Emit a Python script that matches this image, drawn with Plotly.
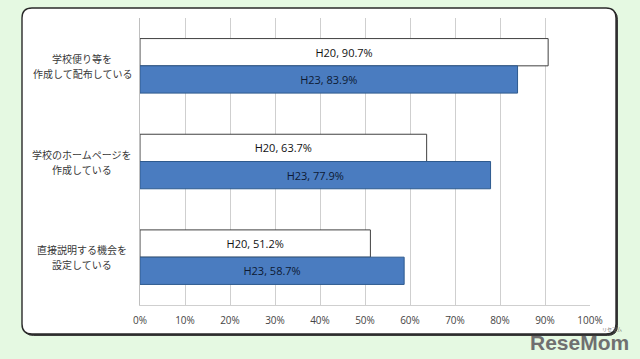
import plotly.graph_objects as go

categories = ["学校便り等を<br>作成して配布している", "学校のホームページを<br>作成している", "直接説明する機会を<br>設定している"]
series_names = ["H20", "H23"]
h20_values = [90.7, 63.7, 51.2]
h23_values = [83.9, 77.9, 58.7]
tick_vals = [0, 10, 20, 30, 40, 50, 60, 70, 80, 90, 100]
tick_text = [f"{v}%" for v in tick_vals]

W, H = 640, 359
ML, MR, MT, MB = 140, 50, 18, 54
pw = W - ML - MR
ph = H - MT - MB

def px_x(x):
    return (x - ML) / pw

def px_y(y):
    return (H - MB - y) / ph

fig = go.Figure()
fig.add_trace(go.Bar(
    y=categories, x=h20_values, orientation="h", name=series_names[0],
    marker=dict(color="white", line=dict(color="#404040", width=1)),
    text=[f"{series_names[0]}, {v}%" for v in h20_values],
    textposition="inside", insidetextanchor="middle",
    textfont=dict(color="#111111", size=11, family="Open Sans, Noto Sans, sans-serif"),
))
fig.add_trace(go.Bar(
    y=categories, x=h23_values, orientation="h", name=series_names[1],
    marker=dict(color="#4a7cc0", line=dict(color="#2e5a8e", width=1)),
    text=[f"{series_names[1]}, {v}%" for v in h23_values],
    textposition="inside", insidetextanchor="middle",
    textfont=dict(color="#0d1a33", size=11, family="Open Sans, Noto Sans, sans-serif"),
))

def rounded(xa, ya, xb, yb, r):
    x0, x1 = px_x(xa), px_x(xb)
    y0, y1 = px_y(yb), px_y(ya)
    rx, ry = r / pw, r / ph
    return (f"M {x0+rx},{y1} L {x1-rx},{y1} Q {x1},{y1} {x1},{y1-ry} "
            f"L {x1},{y0+ry} Q {x1},{y0} {x1-rx},{y0} L {x0+rx},{y0} "
            f"Q {x0},{y0} {x0},{y0+ry} L {x0},{y1-ry} Q {x0},{y1} {x0+rx},{y1} Z")

# shadow + rounded white panel
fig.add_shape(type="path", path=rounded(23.5, 9.5, 617.5, 335.5, 10), xref="paper", yref="paper",
              fillcolor="#3a3a3a", line=dict(color="#3a3a3a", width=1), layer="below")
fig.add_shape(type="path", path=rounded(22, 8, 616, 334, 10), xref="paper", yref="paper",
              fillcolor="white", line=dict(color="#2a2a2a", width=1.4), layer="below")

annotations = []
for c in categories:
    lines = c.split("<br>")
    for i, line in enumerate(lines):
        annotations.append(dict(
            x=px_x(82), xref="paper", y=c, yref="y", text=line, showarrow=False,
            xanchor="center", yanchor="middle", align="center",
            yshift=7.5 - 15 * i,
            font=dict(size=10, color="#383838", family="Noto Sans CJK JP, sans-serif"),
        ))
annotations.append(dict(
    x=px_x(579), xref="paper", y=px_y(342), yref="paper", text="<b>ReseMom</b>",
    showarrow=False, xanchor="center", yanchor="middle",
    font=dict(size=21, color="#707070", family="Liberation Sans, Arial, sans-serif"),
))
annotations.append(dict(
    x=px_x(612), xref="paper", y=px_y(329), yref="paper", text="リセマム",
    showarrow=False, xanchor="center", yanchor="middle",
    font=dict(size=5, color="#707070", family="Noto Sans CJK JP, sans-serif"),
))

fig.update_layout(
    width=W, height=H,
    margin=dict(l=ML, r=MR, t=MT, b=MB),
    paper_bgcolor="#e5f9e2",
    plot_bgcolor="rgba(0,0,0,0)",
    barmode="group",
    bargap=0.43,
    bargroupgap=0.0,
    showlegend=False,
    annotations=annotations,
    xaxis=dict(range=[0, 100], tickvals=tick_vals, ticktext=tick_text,
               showgrid=True, gridcolor="#cfcfcf", gridwidth=1,
               showline=True, linecolor="#cfcfcf", zeroline=False,
               tickfont=dict(size=10, color="#444444", family="Open Sans, sans-serif"),
               ticks="outside", ticklen=6, tickcolor="rgba(0,0,0,0)"),
    yaxis=dict(autorange="reversed", showticklabels=False, showgrid=False,
               showline=True, linecolor="#bfbfbf", ticks=""),
)

fig.write_html("out.html", config={"displayModeBar": False},
               post_script="document.body.style.margin='0';document.body.style.background='#e5f9e2';")
